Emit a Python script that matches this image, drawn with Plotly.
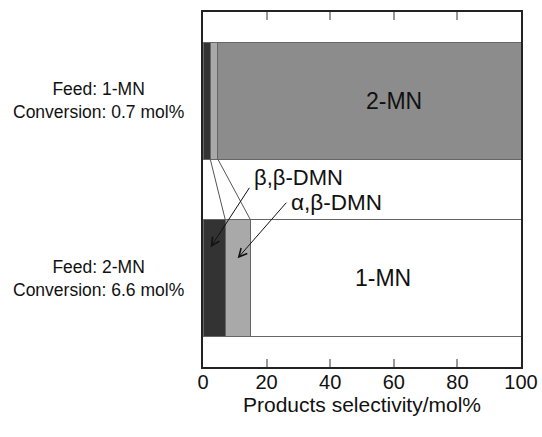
import plotly.graph_objects as go

# ---- data ----
feed_labels = ["Feed: 2-MN", "Feed: 1-MN"]
conversion_labels = ["Conversion: 6.6 mol%", "Conversion: 0.7 mol%"]
bb_dmn = [7.0, 2.3]          # β,β-DMN selectivity, mol%
ab_dmn = [7.9, 2.4]          # α,β-DMN selectivity, mol%
mn_isomer = [85.1, 95.3]     # isomerised MN selectivity, mol%
mn_isomer_names = ["1-MN", "2-MN"]
mn_isomer_colors = ["#ffffff", "#8c8c8c"]
x_ticks = [0, 20, 40, 60, 80, 100]
y_pos = [0, 1]

FONT = "Arial, Liberation Sans, sans-serif"
BAR_W = 0.66

fig = go.Figure()
fig.add_trace(go.Bar(y=y_pos, x=bb_dmn, orientation="h", width=BAR_W,
                     marker=dict(color="#333333", line=dict(color="#666666", width=1)),
                     name="β,β-DMN", showlegend=False, hoverinfo="x"))
fig.add_trace(go.Bar(y=y_pos, x=ab_dmn, orientation="h", width=BAR_W,
                     marker=dict(color="#a9a9a9", line=dict(color="#666666", width=1)),
                     name="α,β-DMN", showlegend=False, hoverinfo="x"))
fig.add_trace(go.Bar(y=y_pos, x=mn_isomer, orientation="h", width=BAR_W,
                     marker=dict(color=mn_isomer_colors, line=dict(color="#666666", width=1)),
                     name="MN", showlegend=False, hoverinfo="x"))

# connecting lines between the two bars (boundaries of the DMN segments)
bb_end = bb_dmn
ab_end = [b + a for b, a in zip(bb_dmn, ab_dmn)]
top_edge = y_pos[1] - BAR_W / 2
bot_edge = y_pos[0] + BAR_W / 2
for ends in (bb_end, ab_end):
    fig.add_shape(type="line", xref="x", yref="y",
                  x0=ends[1], y0=top_edge, x1=ends[0], y1=bot_edge,
                  line=dict(color="#555555", width=1))

annotations = []
# left-side labels
for yp, f, c in zip(y_pos, feed_labels, conversion_labels):
    annotations.append(dict(xref="paper", yref="y", x=-0.33, y=yp,
                            text=f + "<br>" + c, showarrow=False, align="center",
                            xanchor="center", yanchor="middle",
                            font=dict(family=FONT, size=17.5, color="#111111")))
# product labels inside bars
label_x = [56.5, 60]
for yp, name, lx in zip(y_pos, mn_isomer_names, label_x):
    annotations.append(dict(xref="x", yref="y", x=lx, y=yp, text=name,
                            showarrow=False, font=dict(family=FONT, size=23, color="#111111")))
# DMN labels with arrows
annotations += [
    dict(xref="x", yref="y", x=15.3, y=0.565, text="β,β-DMN", showarrow=False,
         xanchor="left", yanchor="middle", font=dict(family=FONT, size=22, color="#111111")),
    dict(xref="x", yref="y", x=27.0, y=0.425, text="α,β-DMN", showarrow=False,
         xanchor="left", yanchor="middle", font=dict(family=FONT, size=22.5, color="#111111")),
    dict(xref="x", yref="y", axref="x", ayref="y", x=2.4, y=0.175, ax=14.9, ay=0.518,
         text="", showarrow=True, arrowhead=5, arrowsize=1.6, arrowwidth=1, arrowcolor="#111111"),
    dict(xref="x", yref="y", axref="x", ayref="y", x=10.9, y=0.113, ax=26.6, ay=0.434,
         text="", showarrow=True, arrowhead=5, arrowsize=1.6, arrowwidth=1, arrowcolor="#111111"),
]

fig.update_layout(
    barmode="stack",
    width=542, height=437,
    margin=dict(l=203, r=21, t=12, b=70, autoexpand=False),
    paper_bgcolor="white", plot_bgcolor="white",
    annotations=annotations,
    font=dict(family=FONT, color="#111111"),
    xaxis=dict(range=[0, 100], tickvals=x_ticks, ticks="inside", ticklen=8,
               tickcolor="#999999", tickwidth=1.5, showgrid=False, zeroline=False,
               showline=True, linecolor="#222222", linewidth=1.5, mirror="ticks",
               automargin=False, ticklabelstandoff=-4,
               tickfont=dict(family=FONT, size=20, color="#111111"),
               title=dict(text="Products selectivity/mol%", standoff=2,
                          font=dict(family=FONT, size=21, color="#111111"))),
    yaxis=dict(range=[-0.5, 1.5], showticklabels=False, ticks="", showgrid=False,
               zeroline=False, showline=True, linecolor="#222222", linewidth=1.5,
               mirror=True, automargin=False),
)

# remove the default page margin so the figure sits at the window's top-left corner
fig.write_html("out.html",
               config={"displayModeBar": False},
               post_script="document.body.style.margin='0';document.body.style.overflow='hidden';")
